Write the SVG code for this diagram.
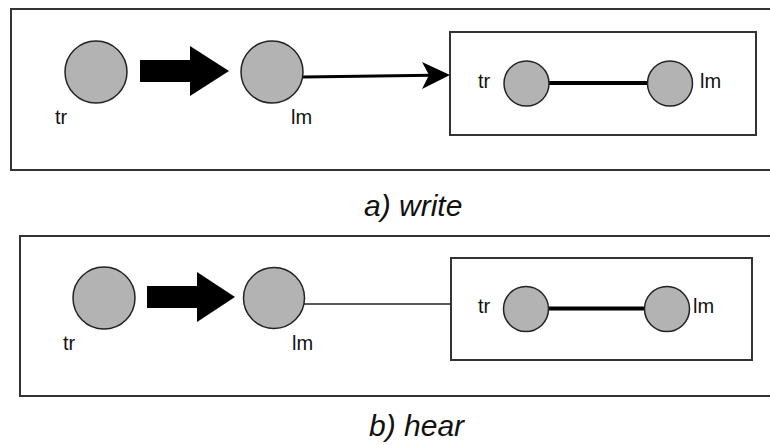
<svg xmlns="http://www.w3.org/2000/svg" width="770" height="445" viewBox="0 0 770 445">
<style>
.frame{fill:none;stroke:#333;stroke-width:2}
.node{fill:#b3b3b3;stroke:#222;stroke-width:1.5}
.lbl{font-family:"Liberation Sans",Arial,sans-serif;font-size:20px;fill:#111}
.cap{font-family:"Liberation Sans",Arial,sans-serif;font-size:30px;font-style:italic;fill:#111}
.thick{stroke:#000;stroke-width:4;fill:none}
.thin{stroke:#222;stroke-width:1.3;fill:none}
.med{stroke:#000;stroke-width:3;fill:none}
.blk{fill:#000}
</style>
<rect width="770" height="445" fill="#fff"/>
<g id="panel-a">
<rect class="frame" x="11" y="9" width="770" height="161"/>
<rect class="frame" x="450" y="32" width="306" height="103"/>
</g>
<g id="panel-b">
<rect class="frame" x="20" y="236" width="770" height="160"/>
<rect class="frame" x="451" y="258" width="301" height="102"/>
</g>
<g id="connectors">
<path class="blk" d="M140,60 H190 V46 L229,71 L190,96 V82 H140 Z"/>
<path class="med" d="M303,77 L432,75.2"/>
<path class="blk" d="M450,75 L422,62 L429,75 L422,89 Z"/>
<path class="thick" d="M549,83 H648"/>
<path class="blk" d="M147,286 H197 V272 L235,297 L197,322 V308 H147 Z"/>
<path class="thin" d="M304,304 H451"/>
<path class="thick" d="M548,308.5 H645"/>
</g>
<g id="a-tr"><circle class="node" cx="96" cy="72" r="31"/><text class="lbl" x="55" y="124">tr</text></g>
<g id="a-lm"><circle class="node" cx="272" cy="72" r="31"/><text class="lbl" x="291" y="124">lm</text></g>
<g id="a-in-tr"><circle class="node" cx="526.5" cy="83.5" r="22.5"/><text class="lbl" x="478" y="88">tr</text></g>
<g id="a-in-lm"><circle class="node" cx="670" cy="83.5" r="22.5"/><text class="lbl" x="700" y="88">lm</text></g>
<g id="b-tr"><circle class="node" cx="104" cy="298" r="31"/><text class="lbl" x="63" y="350">tr</text></g>
<g id="b-lm"><circle class="node" cx="274" cy="298" r="30.5"/><text class="lbl" x="292" y="350">lm</text></g>
<g id="b-in-tr"><circle class="node" cx="526" cy="309" r="22.5"/><text class="lbl" x="478" y="313">tr</text></g>
<g id="b-in-lm"><circle class="node" cx="667" cy="309" r="22.5"/><text class="lbl" x="693" y="313">lm</text></g>
<text class="cap" x="364" y="216">a) write</text>
<text class="cap" x="369" y="436">b) hear</text>
</svg>
